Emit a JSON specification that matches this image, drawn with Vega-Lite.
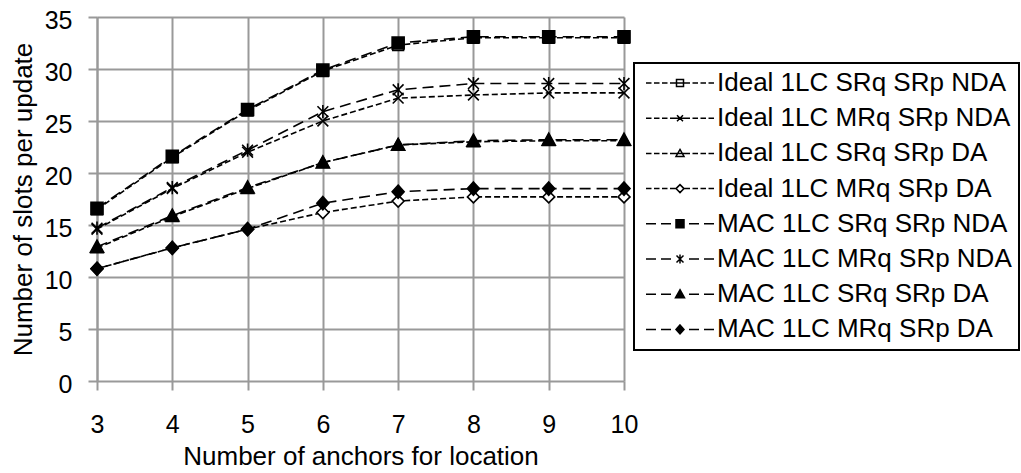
{
  "$schema": "https://vega.github.io/schema/vega-lite/v6.json",
  "autosize": {"type": "none"},
  "padding": {"left": 97, "top": 17, "right": 397, "bottom": 92},
  "width": 527,
  "height": 364,
  "background": "white",
  "config": {
    "font": "Liberation Sans",
    "view": {"stroke": null},
    "legend": {"strokeWidth": 2}
  },
  "data": {"values": [
    {"n": 3, "series": "Ideal 1LC SRq SRp NDA", "v": 16.5},
    {"n": 4, "series": "Ideal 1LC SRq SRp NDA", "v": 21.5},
    {"n": 5, "series": "Ideal 1LC SRq SRp NDA", "v": 26.0},
    {"n": 6, "series": "Ideal 1LC SRq SRp NDA", "v": 29.8},
    {"n": 7, "series": "Ideal 1LC SRq SRp NDA", "v": 32.3},
    {"n": 8, "series": "Ideal 1LC SRq SRp NDA", "v": 33.0},
    {"n": 9, "series": "Ideal 1LC SRq SRp NDA", "v": 33.0},
    {"n": 10, "series": "Ideal 1LC SRq SRp NDA", "v": 33.0},
    {"n": 3, "series": "Ideal 1LC MRq SRp NDA", "v": 14.6},
    {"n": 4, "series": "Ideal 1LC MRq SRp NDA", "v": 18.5},
    {"n": 5, "series": "Ideal 1LC MRq SRp NDA", "v": 22.0},
    {"n": 6, "series": "Ideal 1LC MRq SRp NDA", "v": 25.0},
    {"n": 7, "series": "Ideal 1LC MRq SRp NDA", "v": 27.2},
    {"n": 8, "series": "Ideal 1LC MRq SRp NDA", "v": 27.5},
    {"n": 9, "series": "Ideal 1LC MRq SRp NDA", "v": 27.7},
    {"n": 10, "series": "Ideal 1LC MRq SRp NDA", "v": 27.7},
    {"n": 3, "series": "Ideal 1LC SRq SRp DA", "v": 12.8},
    {"n": 4, "series": "Ideal 1LC SRq SRp DA", "v": 15.8},
    {"n": 5, "series": "Ideal 1LC SRq SRp DA", "v": 18.5},
    {"n": 6, "series": "Ideal 1LC SRq SRp DA", "v": 21.0},
    {"n": 7, "series": "Ideal 1LC SRq SRp DA", "v": 22.7},
    {"n": 8, "series": "Ideal 1LC SRq SRp DA", "v": 23.0},
    {"n": 9, "series": "Ideal 1LC SRq SRp DA", "v": 23.1},
    {"n": 10, "series": "Ideal 1LC SRq SRp DA", "v": 23.1},
    {"n": 3, "series": "Ideal 1LC MRq SRp DA", "v": 10.8},
    {"n": 4, "series": "Ideal 1LC MRq SRp DA", "v": 12.8},
    {"n": 5, "series": "Ideal 1LC MRq SRp DA", "v": 14.6},
    {"n": 6, "series": "Ideal 1LC MRq SRp DA", "v": 16.2},
    {"n": 7, "series": "Ideal 1LC MRq SRp DA", "v": 17.3},
    {"n": 8, "series": "Ideal 1LC MRq SRp DA", "v": 17.7},
    {"n": 9, "series": "Ideal 1LC MRq SRp DA", "v": 17.7},
    {"n": 10, "series": "Ideal 1LC MRq SRp DA", "v": 17.7},
    {"n": 3, "series": "MAC 1LC SRq SRp NDA", "v": 16.6},
    {"n": 4, "series": "MAC 1LC SRq SRp NDA", "v": 21.6},
    {"n": 5, "series": "MAC 1LC SRq SRp NDA", "v": 26.1},
    {"n": 6, "series": "MAC 1LC SRq SRp NDA", "v": 29.9},
    {"n": 7, "series": "MAC 1LC SRq SRp NDA", "v": 32.5},
    {"n": 8, "series": "MAC 1LC SRq SRp NDA", "v": 33.1},
    {"n": 9, "series": "MAC 1LC SRq SRp NDA", "v": 33.1},
    {"n": 10, "series": "MAC 1LC SRq SRp NDA", "v": 33.1},
    {"n": 3, "series": "MAC 1LC MRq SRp NDA", "v": 14.7},
    {"n": 4, "series": "MAC 1LC MRq SRp NDA", "v": 18.6},
    {"n": 5, "series": "MAC 1LC MRq SRp NDA", "v": 22.2},
    {"n": 6, "series": "MAC 1LC MRq SRp NDA", "v": 25.9},
    {"n": 7, "series": "MAC 1LC MRq SRp NDA", "v": 28.0},
    {"n": 8, "series": "MAC 1LC MRq SRp NDA", "v": 28.6},
    {"n": 9, "series": "MAC 1LC MRq SRp NDA", "v": 28.6},
    {"n": 10, "series": "MAC 1LC MRq SRp NDA", "v": 28.6},
    {"n": 3, "series": "MAC 1LC SRq SRp DA", "v": 12.9},
    {"n": 4, "series": "MAC 1LC SRq SRp DA", "v": 15.9},
    {"n": 5, "series": "MAC 1LC SRq SRp DA", "v": 18.6},
    {"n": 6, "series": "MAC 1LC SRq SRp DA", "v": 21.0},
    {"n": 7, "series": "MAC 1LC SRq SRp DA", "v": 22.7},
    {"n": 8, "series": "MAC 1LC SRq SRp DA", "v": 23.1},
    {"n": 9, "series": "MAC 1LC SRq SRp DA", "v": 23.2},
    {"n": 10, "series": "MAC 1LC SRq SRp DA", "v": 23.2},
    {"n": 3, "series": "MAC 1LC MRq SRp DA", "v": 10.8},
    {"n": 4, "series": "MAC 1LC MRq SRp DA", "v": 12.8},
    {"n": 5, "series": "MAC 1LC MRq SRp DA", "v": 14.6},
    {"n": 6, "series": "MAC 1LC MRq SRp DA", "v": 17.1},
    {"n": 7, "series": "MAC 1LC MRq SRp DA", "v": 18.2},
    {"n": 8, "series": "MAC 1LC MRq SRp DA", "v": 18.5},
    {"n": 9, "series": "MAC 1LC MRq SRp DA", "v": 18.5},
    {"n": 10, "series": "MAC 1LC MRq SRp DA", "v": 18.5}
  ]},
  "encoding": {
    "x": {
      "field": "n", "type": "quantitative",
      "scale": {"domain": [3, 10], "nice": false, "zero": false},
      "axis": {
        "values": [3, 4, 5, 6, 7, 8, 9, 10],
        "title": "Number of anchors for location",
        "titleFontSize": 26, "titleFontWeight": "normal", "titleColor": "black", "titlePadding": 6,
        "labelFontSize": 25, "labelColor": "black", "labelPadding": 22, "labelFlush": false, "labelOverlap": false,
        "tickSize": 9, "tickColor": "#999999", "tickWidth": 2,
        "domain": false,
        "grid": true, "gridColor": "#999999", "gridWidth": 2
      }
    },
    "y": {
      "field": "v", "type": "quantitative",
      "scale": {"domain": [0, 35], "nice": false},
      "axis": {
        "values": [0, 5, 10, 15, 20, 25, 30, 35],
        "title": "Number of slots per update",
        "titleFontSize": 26, "titleFontWeight": "normal", "titleColor": "black", "titlePadding": 8,
        "labelFontSize": 25, "labelColor": "black", "labelPadding": 16, "labelOffset": 3,
        "tickSize": 9, "tickColor": "#999999", "tickWidth": 2,
        "domain": true, "domainColor": "#999999", "domainWidth": 2,
        "grid": true, "gridColor": "#999999", "gridWidth": 2
      }
    }
  },
  "layer": [
    {
      "mark": {"type": "line", "color": "black", "strokeWidth": 1.6},
      "encoding": {
        "strokeDash": {
          "field": "series", "type": "nominal", "legend": null,
          "scale": {
            "domain": ["Ideal 1LC SRq SRp NDA", "Ideal 1LC MRq SRp NDA", "Ideal 1LC SRq SRp DA", "Ideal 1LC MRq SRp DA", "MAC 1LC SRq SRp NDA", "MAC 1LC MRq SRp NDA", "MAC 1LC SRq SRp DA", "MAC 1LC MRq SRp DA"],
            "range": [[6, 3], [6, 3], [6, 3], [6, 3], [11, 6], [11, 6], [11, 6], [11, 6]]
          }
        }
      }
    },
    {
      "mark": {"type": "point", "filled": true, "size": 144, "stroke": "black", "strokeWidth": 1.6, "opacity": 1},
      "encoding": {
        "shape": {
          "field": "series", "type": "nominal", "legend": null,
          "scale": {
            "domain": ["Ideal 1LC SRq SRp NDA", "Ideal 1LC MRq SRp NDA", "Ideal 1LC SRq SRp DA", "Ideal 1LC MRq SRp DA", "MAC 1LC SRq SRp NDA", "MAC 1LC MRq SRp NDA", "MAC 1LC SRq SRp DA", "MAC 1LC MRq SRp DA"],
            "range": [
              "M-0.9,-0.9H0.9V0.9H-0.9Z",
              "M-0.9,-0.9L0.9,0.9M-0.9,0.9L0.9,-0.9",
              "M0,-1L1,0.8L-1,0.8Z",
              "M0,-1L1,0L0,1L-1,0Z",
              "M-1,-1H1V1H-1Z",
              "M-0.9,-0.9L0.9,0.9M-0.9,0.9L0.9,-0.9M0,-1.1L0,1.1",
              "M0,-1.1L1.1,0.9L-1.1,0.9Z",
              "M0,-1.1L1,0L0,1.1L-1,0Z"
            ]
          }
        },
        "fill": {
          "field": "series", "type": "nominal", "legend": null,
          "scale": {
            "domain": ["Ideal 1LC SRq SRp NDA", "Ideal 1LC MRq SRp NDA", "Ideal 1LC SRq SRp DA", "Ideal 1LC MRq SRp DA", "MAC 1LC SRq SRp NDA", "MAC 1LC MRq SRp NDA", "MAC 1LC SRq SRp DA", "MAC 1LC MRq SRp DA"],
            "range": ["white", "white", "white", "white", "black", "black", "black", "black"]
          }
        }
      }
    },
    {
      "mark": {"type": "point", "opacity": 0},
      "encoding": {
        "shape": {
          "field": "series", "type": "nominal",
          "scale": {
            "domain": ["Ideal 1LC SRq SRp NDA", "Ideal 1LC MRq SRp NDA", "Ideal 1LC SRq SRp DA", "Ideal 1LC MRq SRp DA", "MAC 1LC SRq SRp NDA", "MAC 1LC MRq SRp NDA", "MAC 1LC SRq SRp DA", "MAC 1LC MRq SRp DA"],
            "range": [
              "M-3.4,0H-2.85M-2.6,0H-2.05M-1.8,0H-1.25M-1,0H-0.45M0.45,0H1M1.25,0H1.8M2.05,0H2.6M2.85,0H3.4M-0.35,-0.35H0.35V0.35H-0.35ZM-0.45,0H0.45",
              "M-3.4,0H-2.85M-2.6,0H-2.05M-1.8,0H-1.25M-1,0H-0.45M0.45,0H1M1.25,0H1.8M2.05,0H2.6M2.85,0H3.4M-0.3,-0.3L0.3,0.3M-0.3,0.3L0.3,-0.3M-0.45,0H0.45",
              "M-3.4,0H-2.85M-2.6,0H-2.05M-1.8,0H-1.25M-1,0H-0.45M0.45,0H1M1.25,0H1.8M2.05,0H2.6M2.85,0H3.4M0,-0.4L0.4,0.3L-0.4,0.3ZM-0.45,0H0.45",
              "M-3.4,0H-2.85M-2.6,0H-2.05M-1.8,0H-1.25M-1,0H-0.45M0.45,0H1M1.25,0H1.8M2.05,0H2.6M2.85,0H3.4M0,-0.4L0.4,0L0,0.4L-0.4,0Z",
              "M-3.4,0H-2.4M-1.9,0H-0.9M0.9,0H1.9M2.4,0H3.4M-0.4,-0.4H0.4V0.4H-0.4ZM-0.4,-0.3H0.4M-0.4,-0.2H0.4M-0.4,-0.1H0.4M-0.4,0H0.4M-0.4,0.1H0.4M-0.4,0.2H0.4M-0.4,0.3H0.4",
              "M-3.4,0H-2.4M-1.9,0H-0.9M0.9,0H1.9M2.4,0H3.4M-0.35,-0.35L0.35,0.35M-0.35,0.35L0.35,-0.35M0,-0.45V0.45",
              "M-3.4,0H-2.4M-1.9,0H-0.9M0.9,0H1.9M2.4,0H3.4M0,-0.45L0.45,0.35L-0.45,0.35ZM-0.056,-0.35H0.056M-0.112,-0.25H0.112M-0.169,-0.15H0.169M-0.225,-0.05H0.225M-0.281,0.05H0.281M-0.337,0.15H0.337M-0.394,0.25H0.394",
              "M-3.4,0H-2.4M-1.9,0H-0.9M0.9,0H1.9M2.4,0H3.4M0,-0.45L0.4,0L0,0.45L-0.4,0ZM-0.089,-0.35H0.089M-0.178,-0.25H0.178M-0.267,-0.15H0.267M-0.356,-0.05H0.356M-0.356,0.05H0.356M-0.267,0.15H0.267M-0.178,0.25H0.178M-0.089,0.35H0.089"
            ]
          },
          "legend": {
            "title": null,
            "orient": "none",
            "legendX": 537,
            "legendY": 46,
            "symbolSize": 400,
            "symbolStrokeWidth": 1.5,
            "symbolStrokeColor": "black",
            "symbolOpacity": 1,
            "symbolOffset": 26,
            "labelOffset": 24,
            "labelFontSize": 26,
            "labelFont": "Liberation Sans",
            "labelColor": "black",
            "labelLimit": 500,
            "padding": 7,
            "rowPadding": 9.2,
            "strokeColor": "black",
            "fillColor": "white"
          }
        }
      }
    }
  ],
  "resolve": {"scale": {"shape": "independent"}, "legend": {"shape": "independent"}}
}
